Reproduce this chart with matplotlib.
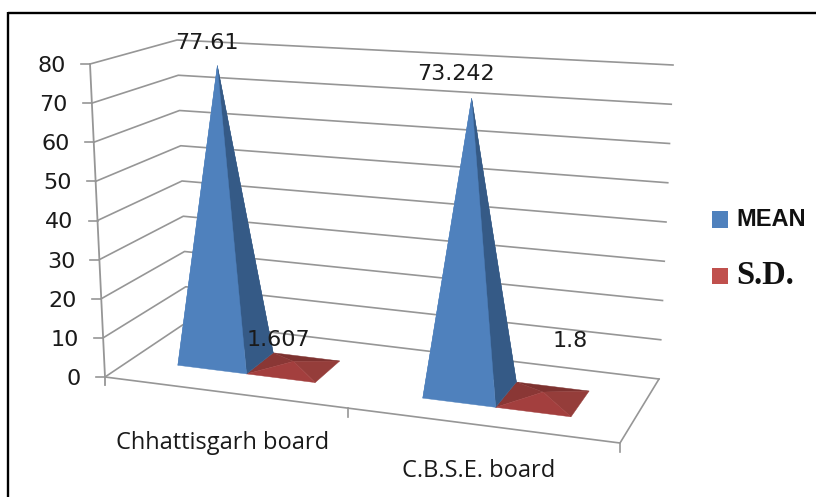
"""Pyramid chart of board-wise mean and S.D., drawn in a hand-built 3D box."""

import matplotlib

matplotlib.use("Agg")
import matplotlib.pyplot as plt
import numpy as np
from matplotlib.patches import Polygon, Rectangle

categories = ["Chhattisgarh board", "C.B.S.E. board"]
mean_values = [77.61, 73.242]
sd_values = [1.607, 1.8]
mean_labels = ["77.61", "73.242"]
sd_labels = ["1.607", "1.8"]
value_ticks = [0, 10, 20, 30, 40, 50, 60, 70, 80]
VALUE_MAX = 80.0

# box corners on the floor, in pixels
FL = np.array([105.0, 377.0])
FR = np.array([620.0, 443.0])
BR = np.array([659.0, 379.0])
BL = np.array([187.0, 322.0])
# offset of the 80 level above each floor corner
UP_FL = np.array([-15.0, -313.0])
UP_FR = np.array([4.0, -345.0])
UP_BR = np.array([14.0, -314.0])
UP_BL = np.array([-10.0, -282.0])

BLUE = "#4f81bd"
BLUE_DARK = "#355a86"
RED = "#c0504d"
RED_FACES = ["#7e3230", "#8a3735", "#953d3a", "#a33f3e"]
GRID = "#969696"
CENTRES = [0.23, 0.73]
MEAN_W = [0.137, 0.145]
SD_W = [0.137, 0.15]
DEPTHS = [(0.32, 0.69), (0.29, 0.70)]
TEXT = "#1a1a1a"


def bilerp(u, d, a, b, c, e):
    return (1 - d) * ((1 - u) * a + u * b) + d * ((1 - u) * e + u * c)


def project(u, d, value=0.0):
    floor = bilerp(u, d, FL, FR, BR, BL)
    up = bilerp(u, d, UP_FL, UP_FR, UP_BR, UP_BL)
    return floor + up * value / VALUE_MAX


def pyramid(ax, u0, u1, depth, value, faces, z=3):
    d0, d1 = depth
    fl, fr = project(u0, d0), project(u1, d0)
    br, bl = project(u1, d1), project(u0, d1)
    apex = project((u0 + u1) / 2, (d0 + d1) / 2, value)
    # back, left, right, front
    order = [(bl, br), (fl, bl), (fr, br), (fl, fr)]
    for (p, q), col in zip(order, faces):
        ax.add_patch(Polygon([p, q, apex], closed=True, fc=col, ec=col, lw=0.3, zorder=z))


fig = plt.figure(figsize=(8.16, 4.97), dpi=100)
ax = fig.add_axes([0, 0, 1, 1])
ax.set_xlim(0, 816)
ax.set_ylim(497, 0)
ax.axis("off")

# outer frame: only top and left edges are present
ax.plot([8, 816], [13, 13], color="black", lw=1.7, solid_capstyle="butt")
ax.plot([8, 8], [12, 497], color="black", lw=1.7, solid_capstyle="butt")

# walls
for v in value_ticks:
    left = project(0, 0, v)
    corner = project(0, 1, v)
    right = project(1, 1, v)
    ax.plot([left[0], corner[0], right[0]], [left[1], corner[1], right[1]], color=GRID, lw=1.2, zorder=1)
    ax.plot([left[0] - 9, left[0]], [left[1], left[1]], color=GRID, lw=1.2, zorder=1)
    ax.text(left[0] - 24, left[1] + 2, str(v), ha="right", va="center", fontsize=16, color=TEXT)

top = project(0, 0, VALUE_MAX)
ax.plot([top[0], FL[0], FL[0]], [top[1], FL[1], FL[1] + 8], color=GRID, lw=1.3, zorder=1)

# floor edges and category ticks
ax.plot([FL[0], FR[0], BR[0]], [FL[1], FR[1], BR[1]], color=GRID, lw=1.2, zorder=1)
for u in [0.472, 1.0]:
    p = project(u, 0)
    ax.plot([p[0], p[0]], [p[1], p[1] + 9], color=GRID, lw=1.2, zorder=1)

# pyramids: S.D. first, so the tall mean pyramid stays in front of it
for i in range(len(categories)):
    c = CENTRES[i]
    pyramid(ax, c, c + SD_W[i], DEPTHS[i], sd_values[i], RED_FACES)
    pyramid(ax, c - MEAN_W[i], c, DEPTHS[i], mean_values[i], [BLUE_DARK, BLUE, BLUE_DARK, BLUE], z=4)

# data labels
mean_label_xy = [(207, 43), (456, 74)]
sd_label_xy = [(278, 340), (570, 341)]
for i in range(len(categories)):
    ax.text(*mean_label_xy[i], mean_labels[i], ha="center", va="center", fontsize=16, color=TEXT, zorder=6)
    ax.text(*sd_label_xy[i], sd_labels[i], ha="center", va="center", fontsize=16, color=TEXT, zorder=6)

# category labels
cat_xy = [(223, 443), (479, 471)]
for name, xy in zip(categories, cat_xy):
    ax.text(*xy, name, ha="center", va="center", fontsize=17, color=TEXT, family=["Open Sans", "DejaVu Sans"])

# legend
ax.add_patch(Rectangle((712, 211), 16, 17, fc=BLUE, ec="none"))
ax.add_patch(Rectangle((712, 268), 16, 16, fc=RED, ec="none"))
ax.text(736, 220, "MEAN", ha="left", va="center", fontsize=17, color="#111111", family="Liberation Sans",
        fontweight="bold")
ax.text(736, 275, "S.D.", ha="left", va="center", fontsize=23.5, color="#111111", family="Liberation Serif",
        fontweight="bold")

fig.savefig("out.png", dpi=100)
plt.close(fig)
